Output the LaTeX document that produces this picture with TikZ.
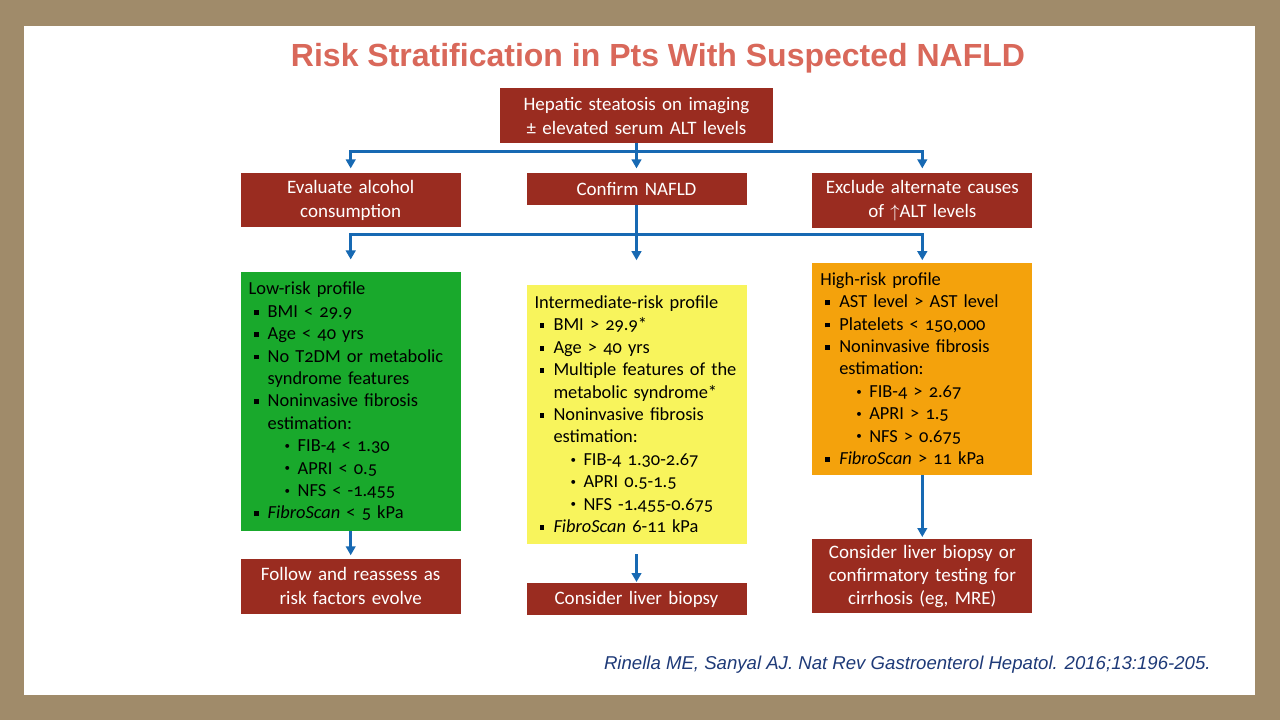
\documentclass[tikz,border=0pt]{standalone}
\usepackage{fontspec}
\setmainfont{Carlito}[Numbers=OldStyle]
\newfontfamily\arialf{Liberation Sans}
\usetikzlibrary{positioning,arrows.meta}
\definecolor{marco}{HTML}{A08B6A}
\definecolor{rojobox}{HTML}{9A2C20}
\definecolor{titulo}{HTML}{D9685A}
\definecolor{azulflecha}{HTML}{1769B3}
\definecolor{verderisk}{HTML}{19A92C}
\definecolor{amarillorisk}{HTML}{F8F45C}
\definecolor{naranjarisk}{HTML}{F4A20C}
\definecolor{citaazul}{HTML}{1E3A78}
\newcommand{\vineta}{\makebox[9.5pt][l]{\hspace{2.5pt}\rule[.3ex]{.55ex}{.55ex}}}
\newcommand{\sangr}{\hspace*{9.5pt}}
\newcommand{\punto}{\hspace*{18pt}\makebox[6.5pt][l]{\raisebox{.25ex}{\scalebox{.6}{\textbullet}}}}
\tikzset{
  caja/.style={rectangle, fill=rojobox, text=white, align=center, text width=100pt,
    inner xsep=5pt, inner ysep=3.5pt, minimum height=16pt, font=\fontsize{9.5}{12}\selectfont},
  perfil/.style={rectangle, align=left, text width=102pt, inner xsep=4pt,
    inner ysep=4pt, font=\fontsize{9.2}{11.2}\selectfont},
  flecha/.style={-{Triangle[length=4.5pt,width=4.8pt]}, line width=1.4pt, draw=azulflecha},
}
\begin{document}
\begin{tikzpicture}[node distance=14.5pt and 32.5pt]
    % Marco
    \fill[marco] (0,0) rectangle (640pt,-360pt);
    \fill[white] (12pt,-13pt) rectangle (627.5pt,-347.5pt);
    % Titulo
    \node[font=\arialf\bfseries\fontsize{16}{18}\selectfont, text=titulo] (tit) at (329pt,-29pt)
      {Risk Stratification in Pts With Suspected NAFLD};
    % Nivel inicial
    \node[caja, text width=126.5pt, minimum height=27.5pt] (hep) at (318.25pt,-57.75pt)
      {Hepatic steatosis on imaging\\± elevated serum ALT levels};
    % Evaluacion
    \node[caja, below=of hep] (conf) {Confirm NAFLD};
    \node[caja, left=of conf.north west, anchor=north east] (alc) {Evaluate alcohol\\consumption};
    \node[caja, right=of conf.north east, anchor=north west, minimum height=27.5pt] (exc)
      {Exclude alternate causes\\of $\uparrow$ALT levels};
    % Perfiles de riesgo
    \node[perfil, fill=verderisk, minimum height=129.5pt, below=22pt of alc] (low)
      {Low-risk profile\\
       \vineta BMI < 29.9\\
       \vineta Age < 40 yrs\\
       \vineta No T2DM or metabolic\\
       \sangr syndrome features\\
       \vineta Noninvasive fibrosis\\
       \sangr estimation:\\
       \punto FIB-4 < 1.30\\
       \punto APRI < 0.5\\
       \punto NFS < -1.455\\
       \vineta \textit{FibroScan} < 5 kPa};
    \node[perfil, fill=amarillorisk, minimum height=129.5pt, below=39.5pt of conf] (mid)
      {Intermediate-risk profile\\
       \vineta BMI > 29.9*\\
       \vineta Age > 40 yrs\\
       \vineta Multiple features of the\\
       \sangr metabolic syndrome*\\
       \vineta Noninvasive fibrosis\\
       \sangr estimation:\\
       \punto FIB-4 1.30-2.67\\
       \punto APRI 0.5-1.5\\
       \punto NFS -1.455-0.675\\
       \vineta \textit{FibroScan} 6-11 kPa};
    \node[perfil, fill=naranjarisk, minimum height=106pt, below=17pt of exc] (high)
      {High-risk profile\\
       \vineta AST level > AST level\\
       \vineta Platelets < 150,000\\
       \vineta Noninvasive fibrosis\\
       \sangr estimation:\\
       \punto FIB-4 > 2.67\\
       \punto APRI > 1.5\\
       \punto NFS > 0.675\\
       \vineta \textit{FibroScan} > 11 kPa};
    % Conducta
    \node[caja, below=13.5pt of low, minimum height=27.5pt] (seg) {Follow and reassess as\\risk factors evolve};
    \node[caja, below=19.5pt of mid] (bio) {Consider liver biopsy};
    \node[caja, below=32pt of high, inner ysep=3pt, font=\fontsize{9.5}{11.4}\selectfont] (cir)
      {Consider liver biopsy or\\confirmatory testing for\\cirrhosis (eg, MRE)};
    % Cita
    \node[font=\arialf\itshape\fontsize{9.3}{11}\selectfont, text=citaazul, anchor=east, inner sep=0pt] (cita)
      at (605.5pt,-332.5pt) {Rinella ME, Sanyal AJ. Nat Rev Gastroenterol Hepatol. 2016;13:196-205.};

    \draw[flecha, shorten >=2pt] (hep.south) -- ++(0,-4pt) -| (alc.north);
    \draw[flecha, shorten >=2pt] (hep.south) -- ++(0,-4pt) -| (exc.north);
    \draw[flecha, shorten >=2pt] (hep) -- (conf);
    \draw[flecha, shorten >=6pt] (conf.south) -- ++(0,-14.5pt) -| (low.north);
    \draw[flecha, shorten >=1pt] (conf.south) -- ++(0,-14.5pt) -| (high.north);
    \draw[flecha, shorten >=12pt] (conf) -- (mid);
    \draw[flecha, shorten >=1.5pt] (low) -- (seg);
    \draw[flecha, shorten <=5pt, shorten >=0.5pt] (mid) -- (bio);
    \draw[flecha, shorten >=1pt] (high) -- (cir);
\end{tikzpicture}
\end{document}
